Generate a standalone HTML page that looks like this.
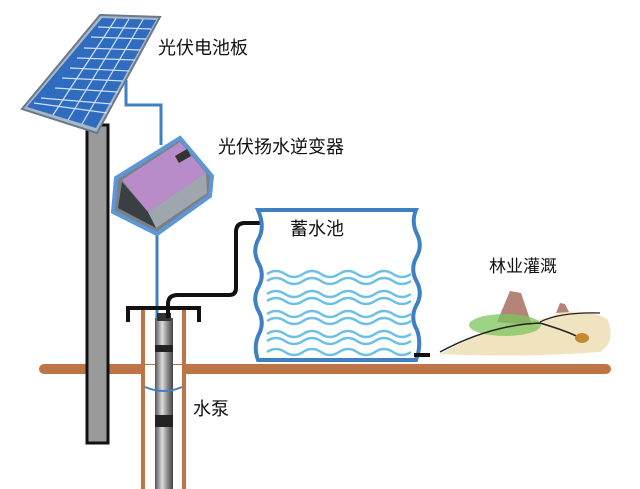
<!DOCTYPE html>
<html><head><meta charset="utf-8"><style>
html,body{margin:0;padding:0;background:#fff;width:640px;height:489px;overflow:hidden}
text{font-family:"Liberation Sans","Noto Sans CJK SC",sans-serif;fill:#111}
</style></head><body>
<svg width="640" height="489" viewBox="0 0 640 489" xmlns="http://www.w3.org/2000/svg">
<line x1="44" y1="369" x2="606" y2="369" stroke="#bf7448" stroke-width="10" stroke-linecap="round"/>
<rect x="87" y="125" width="21" height="318" fill="#9a9a9a" stroke="#111" stroke-width="3"/>
<polygon points="100,15 160,17 97,133 22,109" fill="#a9b8c8" stroke="#6a7a8a" stroke-width="2"/>
<polygon points="102,18 156,20 96,128 27,107" fill="#2f6cc0"/>
<g stroke="#cfe0f5" stroke-width="1.2">
<line x1="116" y1="18.5" x2="53" y2="115"/><line x1="129" y1="19" x2="68" y2="120"/><line x1="143" y1="19.5" x2="82" y2="124"/>
<line x1="98" y1="27" x2="151" y2="29"/><line x1="91" y1="37" x2="146" y2="39"/><line x1="84" y1="48" x2="140" y2="50"/><line x1="77" y1="58" x2="135" y2="60"/><line x1="70" y1="68" x2="129" y2="71"/><line x1="62" y1="78" x2="123" y2="81"/><line x1="55" y1="88" x2="118" y2="92"/><line x1="41" y1="98" x2="112" y2="104"/><line x1="34" y1="103" x2="107" y2="113"/>
</g>
<polyline points="126,80 126,105 161,105 161,145" fill="none" stroke="#3f7fc4" stroke-width="3"/>
<line x1="157" y1="230" x2="157" y2="355" stroke="#3f7fc4" stroke-width="3"/>
<polygon points="116,178 180,138 212,176 210,196 157,234 113,212" fill="#7a8088" stroke="#5e97d8" stroke-width="4"/>
<polygon points="122,180 180,142 206,173 148,212" fill="#b88cc8"/>
<polygon points="148,212 206,173 207,193 156,228" fill="#a0a6ae"/>
<polygon points="122,182 148,212 156,228 118,208" fill="#3a3f44"/>
<rect x="176" y="152" width="14" height="8" fill="#333" transform="rotate(-30 183 156)"/>
<line x1="143" y1="310" x2="143" y2="489" stroke="#bf7448" stroke-width="4"/>
<line x1="184" y1="310" x2="184" y2="489" stroke="#bf7448" stroke-width="4"/>
<rect x="145" y="365" width="37" height="9" fill="#fff"/>
<defs><linearGradient id="pg" x1="0" x2="1"><stop offset="0" stop-color="#555"/><stop offset=".4" stop-color="#ddd"/><stop offset=".7" stop-color="#888"/><stop offset="1" stop-color="#444"/></linearGradient></defs>
<rect x="155" y="318" width="18" height="171" fill="url(#pg)"/>
<rect x="157" y="313" width="14" height="8" fill="#333"/>
<rect x="155" y="345" width="18" height="7" fill="#222"/>
<rect x="155" y="415" width="18" height="12" fill="#222"/>
<path d="M145 387 Q164 395 182 387" fill="none" stroke="#3f7fc4" stroke-width="2"/>
<polyline points="128,322 128,308 199,308 199,322" fill="none" stroke="#111" stroke-width="4"/>
<path d="M168 318 L168 304 Q168 295 178 295 L229 295 Q236 295 236 288 L236 232 Q236 223 245 223 L273 223" fill="none" stroke="#111" stroke-width="4"/>
<path d="M258 210 L416 210 Q411 222 417 234 Q423 246 416 258 Q410 270 417 282 Q423 294 416 306 Q410 318 417 330 Q422 344 416 360 L258 360 Q253 346 259 334 Q265 322 258 310 Q252 298 259 286 Q265 274 258 262 Q252 250 259 238 Q265 226 258 210 Z" fill="#fff" stroke="#3f7fc4" stroke-width="4"/>
<g fill="none" stroke="#6cc0e6" stroke-width="2.5">
<path id="w" d="M267 274 q9 -6 18 0 t18 0 t18 0 t18 0 t18 0 t18 0 t18 0 t18 0"/>
<use href="#w" y="7"/><use href="#w" y="20"/><use href="#w" y="27"/><use href="#w" y="40"/><use href="#w" y="47"/><use href="#w" y="60"/><use href="#w" y="67"/><use href="#w" y="78"/>
</g>
<line x1="414" y1="355" x2="430" y2="355" stroke="#111" stroke-width="4"/>
<path d="M440 354 Q480 332 520 320 Q545 322 560 312 Q595 310 608 320 Q616 342 600 352 Q520 358 440 354 Z" fill="#efe3c0"/>
<polygon points="497,322 510,291 521,293 532,325" fill="#b58478"/>
<polygon points="556,313 560,303 565,304 569,312" fill="#b58478"/>
<ellipse cx="505" cy="325" rx="36" ry="11" fill="#7cc45c" opacity=".75"/>
<path d="M440 352 Q490 325 540 323 Q570 332 580 338" fill="none" stroke="#222" stroke-width="1.5"/>
<path d="M540 322 Q560 312 600 313" fill="none" stroke="#222" stroke-width="1.2"/>
<ellipse cx="582" cy="338" rx="7" ry="5" fill="#c48a30"/>
<text x="158" y="54" font-size="18">光伏电池板</text>
<text x="218" y="153" font-size="18">光伏扬水逆变器</text>
<text x="290" y="235" font-size="18">蓄水池</text>
<text x="489" y="272" font-size="17">林业灌溉</text>
<text x="193" y="415" font-size="18">水泵</text>
</svg>
</body></html>
